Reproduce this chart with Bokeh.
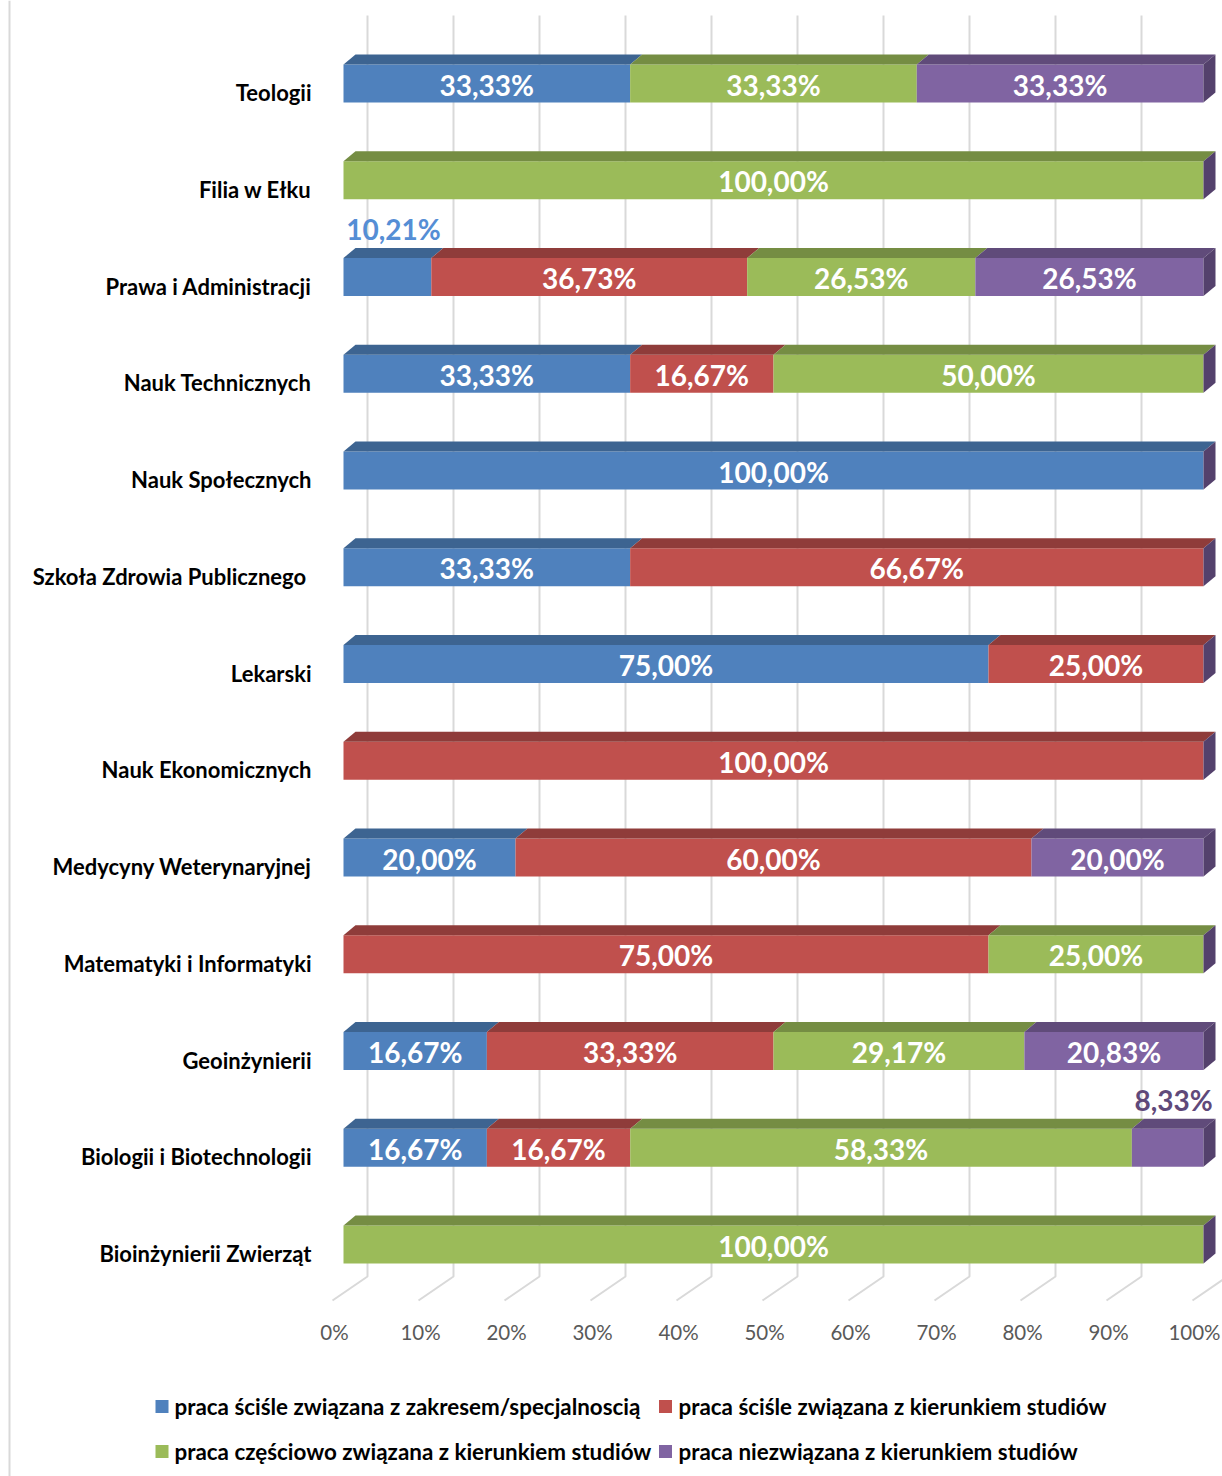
from bokeh.plotting import figure
from bokeh.models import Range1d, Span
from bokeh.embed import file_html
from bokeh.resources import INLINE
from bokeh.core.properties import value

# ---------------- data ----------------
categories = ["Teologii", "Filia w Ełku", "Prawa i Administracji", "Nauk Technicznych",
              "Nauk Społecznych", "Szkoła Zdrowia Publicznego ", "Lekarski",
              "Nauk Ekonomicznych", "Medycyny Weterynaryjnej", "Matematyki i Informatyki",
              "Geoinżynierii", "Biologii i Biotechnologii", "Bioinżynierii Zwierząt"]
series_names = ["praca ściśle związana z zakresem/specjalnoscią",
                "praca ściśle związana z kierunkiem studiów",
                "praca częściowo związana z kierunkiem studiów",
                "praca niezwiązana z kierunkiem studiów"]
s_zakres = [33.33, 0, 10.21, 33.33, 100, 33.33, 75, 0, 20, 0, 16.67, 16.67, 0]
s_kierunek = [0, 0, 36.73, 16.67, 0, 66.67, 25, 100, 60, 75, 33.33, 16.67, 0]
s_czesciowo = [33.33, 100, 26.53, 50, 0, 0, 0, 0, 0, 25, 29.17, 58.33, 100]
s_niezwiazana = [33.33, 0, 26.53, 0, 0, 0, 0, 0, 20, 0, 20.83, 8.33, 0]
tick_values = [0, 10, 20, 30, 40, 50, 60, 70, 80, 90, 100]
tick_labels = ["0%", "10%", "20%", "30%", "40%", "50%", "60%", "70%", "80%", "90%", "100%"]

series = [s_zakres, s_kierunek, s_czesciowo, s_niezwiazana]

# ---------------- styling / layout ----------------
front_colors = ["#4F81BD", "#C0504D", "#9BBB59", "#8064A2"]
top_colors = ["#3D6491", "#8F3C3A", "#758D43", "#604B7A"]
side_color = "#54416C"
outside_label_colors = ["#558ED5", "#C0504D", "#9BBB59", "#5F497A"]
FONT = "Lato"

W, H = 1222, 1476
PX_X = 8.6      # pixels per percent
PX_Y = 96.75    # pixels per category row
IMG_X0 = 343    # page x of 0 %
IMG_Y0 = 83     # page y of first row centre


def X(img_x):
    return (img_x - IMG_X0) / PX_X


def Y(img_y):
    return (img_y - IMG_Y0) / PX_Y


def dx(px):
    return px / PX_X


def dy(px):
    return px / PX_Y


p = figure(width=W, height=H, output_backend="svg", toolbar_location=None,
           x_range=Range1d(X(0), X(W)), y_range=Range1d(Y(H), Y(0)),
           min_border=0)
p.axis.visible = False
p.grid.visible = False
p.outline_line_color = None
p.background_fill_color = "white"
p.border_fill_color = "white"

# left chart border
p.add_layout(Span(location=X(9), dimension="height", line_color="#D9D9D9", line_width=2))

# gridlines (back wall + floor)
gxs, gys = [], []
for t in tick_values:
    gxs.append([t + dx(24), t + dx(24), t - dx(11)])
    gys.append([Y(15), Y(1276), Y(1300)])
p.multi_line(gxs, gys, line_color="#D9D9D9", line_width=2)

# bars
half = dy(19)
ddx, ddy = dx(12), dy(10)
n = len(categories)
for si, vals in enumerate(series):
    lefts, rights, tops, bottoms = [], [], [], []
    pxs, pys = [], []
    for i in range(n):
        start = sum(series[k][i] for k in range(si))
        v = vals[i]
        if v <= 0:
            continue
        end = start + v
        lefts.append(start)
        rights.append(end)
        tops.append(i - half)
        bottoms.append(i + half)
        pxs.append([start, end, end + ddx, start + ddx])
        pys.append([i - half, i - half, i - half - ddy, i - half - ddy])
    p.quad(left=lefts, right=rights, top=tops, bottom=bottoms,
           fill_color=front_colors[si], line_color=None)
    p.patches(pxs, pys, fill_color=top_colors[si], line_color=None)

# end caps (side face of the last, purple, series)
cxs, cys = [], []
for i in range(n):
    total = sum(series[k][i] for k in range(4))
    cxs.append([total, total + ddx, total + ddx, total])
    cys.append([i - half, i - half - ddy, i + half - ddy, i + half])
p.patches(cxs, cys, fill_color=side_color, line_color=None)

# data labels
for si, vals in enumerate(series):
    in_x, in_y, in_t = [], [], []
    out_x, out_y, out_t = [], [], []
    for i in range(n):
        v = vals[i]
        if v <= 0:
            continue
        start = sum(series[k][i] for k in range(si))
        txt = ("%.2f%%" % v).replace(".", ",")
        if v >= 12:
            in_x.append(start + v / 2)
            in_y.append(i + dy(1))
            in_t.append(txt)
        else:
            out_x.append(start + v / 2 + dx(6))
            out_y.append(i - dy(48))
            out_t.append(txt)
    p.text(in_x, in_y, text=in_t, text_color="white", text_font=value(FONT),
           text_font_style="bold", text_font_size="28px", text_align="center",
           text_baseline="middle")
    if out_t:
        p.text(out_x, out_y, text=out_t, text_color=outside_label_colors[si],
               text_font=value(FONT), text_font_style="bold", text_font_size="28px",
               text_align="center", text_baseline="middle")

# category labels
p.text([X(311)] * n, [i + dy(9) for i in range(n)], text=categories, text_color="black",
       text_font=value(FONT), text_font_style="bold", text_font_size="22px",
       text_align="right", text_baseline="middle")

# value axis labels
p.text([t - dx(9) for t in tick_values], [Y(1331)] * len(tick_values), text=tick_labels,
       text_color="#595959", text_font=value(FONT), text_font_size="20.5px",
       text_align="center", text_baseline="middle")

# legend
leg_sq_x = [X(161.5), X(665), X(161.5), X(665)]
leg_y = [Y(1406), Y(1406), Y(1451), Y(1451)]
leg_tx = [X(174), X(678), X(174), X(678)]
p.scatter(leg_sq_x, leg_y, marker="square", size=13, fill_color=front_colors, line_color=None)
p.text(leg_tx, leg_y, text=series_names, text_color="black", text_font=value(FONT),
       text_font_style="bold", text_font_size="22.4px", text_align="left",
       text_baseline="middle")

open("out.html", "w").write(file_html(p, INLINE))
